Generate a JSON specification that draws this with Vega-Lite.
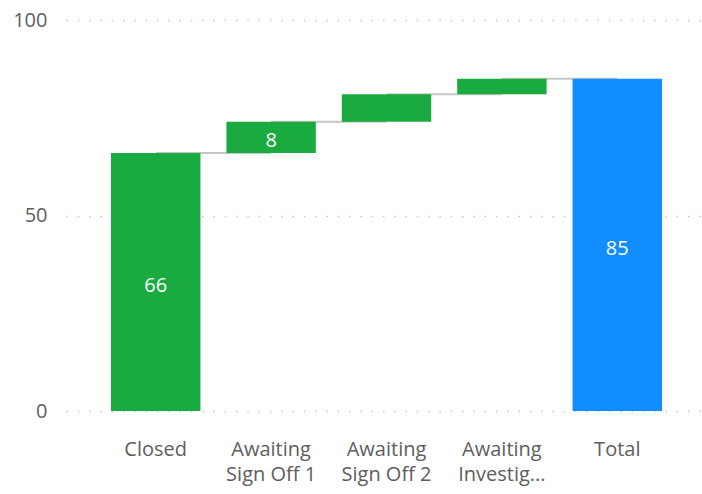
{
  "$schema": "https://vega.github.io/schema/vega-lite/v6.json",
  "width": 641,
  "height": 391,
  "autosize": "none",
  "padding": {"left": 66, "top": 20, "right": 0, "bottom": 83},
  "background": "white",
  "config": {"view": {"stroke": null}, "font": "Open Sans"},
  "data": {
    "values": [
      {"cat": "Closed", "start": 0, "end": 66, "label": "66", "kind": "step", "next": "Awaiting Sign Off 1"},
      {"cat": "Awaiting Sign Off 1", "start": 66, "end": 74, "label": "8", "kind": "step", "next": "Awaiting Sign Off 2"},
      {"cat": "Awaiting Sign Off 2", "start": 74, "end": 81, "label": "", "kind": "step", "next": "Awaiting Investigation"},
      {"cat": "Awaiting Investigation", "start": 81, "end": 85, "label": "", "kind": "step", "next": "Total"},
      {"cat": "Total", "start": 0, "end": 85, "label": "85", "kind": "total", "next": null}
    ]
  },
  "encoding": {
    "x": {
      "field": "cat",
      "type": "nominal",
      "sort": null,
      "scale": {"paddingInner": 0.225, "paddingOuter": 0.39},
      "axis": {
        "title": null,
        "labelAngle": 0,
        "domain": false,
        "ticks": false,
        "labelFontSize": 20,
        "labelColor": "#605E5C",
        "labelPadding": 28,
        "labelLineHeight": 25,
        "labelLimit": 200,
        "labelExpr": "substring(datum.label, 0, 9) == 'Awaiting ' ? ['Awaiting', datum.label == 'Awaiting Investigation' ? 'Investig...' : substring(datum.label, 9)] : datum.label"
      }
    }
  },
  "layer": [
    {
      "transform": [{"filter": "datum.next != null"}],
      "mark": {"type": "rule", "color": "#C8C6C4", "strokeWidth": 2},
      "encoding": {
        "x2": {"field": "next"},
        "y": {"field": "end", "type": "quantitative"}
      }
    },
    {
      "mark": {"type": "bar"},
      "encoding": {
        "y": {
          "field": "start",
          "type": "quantitative",
          "scale": {"domain": [0, 100], "nice": false},
          "axis": {
            "title": null,
            "values": [0, 50, 100],
            "domain": false,
            "ticks": false,
            "labelFontSize": 20,
            "labelColor": "#605E5C",
            "labelPadding": 19,
            "gridColor": "#C8C6C4",
            "gridDash": [1.5, 9.8],
            "gridWidth": 1.5
          }
        },
        "y2": {"field": "end"},
        "color": {
          "field": "kind",
          "type": "nominal",
          "scale": {"domain": ["step", "total"], "range": ["#1AAB40", "#118DFF"]},
          "legend": null
        }
      }
    },
    {
      "transform": [{"calculate": "(datum.start + datum.end) / 2", "as": "mid"}],
      "mark": {"type": "text", "color": "white", "fontSize": 20, "baseline": "middle", "dy": 4},
      "encoding": {
        "y": {"field": "mid", "type": "quantitative"},
        "text": {"field": "label"}
      }
    }
  ]
}
